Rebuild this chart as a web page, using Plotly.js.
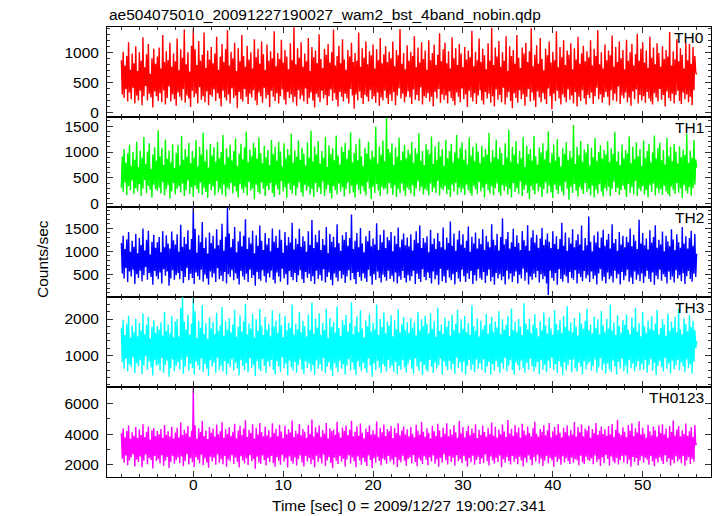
<!DOCTYPE html>
<html><head><meta charset="utf-8">
<script src="https://cdn.plot.ly/plotly-3.0.1.min.js"></script>
<style>html,body{margin:0;padding:0;background:#fff}#chart{width:717px;height:516px}</style>
</head><body><div id="chart"></div>
<script>
// Time grid of the light curves (seconds from 2009/12/27 19:00:27.341)
const timeStart = -8;
const timeStep = 0.1;

const th0 = [
880,310,1020,250,790,400,950,190,1180,340,720,230,990,420,830,160,1110,290,700,210,
1010,370,870,130,1260,280,760,450,980,210,1150,320,650,260,910,90,1070,360,820,280,
940,200,1090,330,740,180,1300,380,850,140,1030,250,880,440,1170,190,770,310,990,230,
860,120,1240,340,710,270,1060,210,920,400,1390,170,810,290,1010,240,690,100,1120,370,
1410,260,1060,320,800,160,1200,430,870,220,970,280,1340,180,750,360,1040,130,890,300,
1100,270,830,390,990,200,1270,330,720,240,940,110,1150,370,850,260,1060,210,1380,310,
790,160,1020,410,910,250,1170,290,700,80,1080,350,860,230,1300,190,950,400,770,270,
1120,150,890,320,1010,260,740,380,1230,210,930,130,1070,340,820,280,1190,170,980,420,
710,240,1140,300,870,100,1030,370,910,270,1360,200,780,330,1000,160,900,280,1220,390,
840,220,1050,140,940,350,730,250,1160,310,880,180,1430,270,810,120,1080,380,920,230,
1180,290,770,190,990,410,860,150,1250,250,700,340,1100,210,930,90,1040,320,830,260,
1310,180,900,370,750,240,1070,300,970,130,1150,280,840,390,1010,200,1390,330,790,220,
950,110,1120,350,830,270,1230,190,890,320,720,240,1050,160,940,400,1170,290,850,70,
1000,310,870,210,1340,360,770,250,1080,150,920,300,1190,270,810,190,1030,380,960,230,
1140,280,740,170,1060,340,880,120,1250,260,830,210,980,370,1110,250,850,150,1020,310,
910,200,1190,350,780,130,1050,290,960,410,1400,240,820,320,1000,180,730,270,1130,360,
870,260,1020,150,950,390,1280,220,760,300,1090,200,840,430,1180,140,900,280,1040,250,
720,330,1210,190,880,270,1000,110,1140,350,800,240,970,400,1330,170,860,310,1060,220,
1170,290,830,160,1030,360,740,250,1260,200,910,130,1080,340,800,270,1150,180,990,410,
760,230,1100,310,890,100,1040,370,930,260,1370,190,780,330,1020,150,880,290,1240,380,
850,210,1070,140,960,350,730,240,1160,320,870,170,1420,280,800,110,1090,390,940,220,
1200,300,770,180,1010,420,870,140,1280,260,700,350,1110,200,950,80,1050,330,820,250,
1300,170,920,380,750,230,1090,310,990,120,1170,270,850,400,1030,190,1410,340,780,210,
970,100,1130,360,820,260,1250,180,900,330,710,230,1070,150,960,410,1190,280,840,60,
1020,320,880,200,1360,370,760,240,1100,140,930,310,1210,260,800,180,1040,390,970,220,
1160,290,730,160,1080,350,890,110,1270,270,820,200,990,380,1120,240,860,140,1030,300,
930,250,1210,340,790,150,1070,280,950,420,1380,230,810,310,1010,170,740,260,1140,350,
880,270,1040,130,960,380,1290,210,770,320,1100,190,850,440,1190,150,910,290,1050,240,
730,340,1220,180,870,260,1010,120,1150,360,790,230,980,390,1320,160,870,300,1070,210,
1180,280,840,170,1040,350,750,240,1270,190,920,140,1090,330,810,260,1160,190,1000,400,
770,220,1110,300,900,110,1050,360,940,250,1350,200,790,320,1030,160,890,300,1230,370,
860,200,1080,150,970,340,740,230,1170,310,880,180,1150,270,820,130,1100,380,950,680,
640];

const th1 = [
310,920,230,1060,410,790,170,970,340,1140,260,730,450,1000,190,850,300,1200,240,710,
380,1030,150,890,290,1290,460,770,210,1010,350,1170,270,670,120,950,370,1090,280,830,
250,1420,310,920,200,1080,420,750,160,1240,280,870,360,1030,100,800,240,1150,400,690,
180,980,290,1130,340,740,220,1310,390,850,150,1060,260,910,450,1180,190,780,320,1020,
130,890,350,1230,280,720,210,1100,410,950,170,1370,300,820,230,1050,110,700,380,1160,
260,930,330,1090,160,810,440,1200,220,880,290,1000,180,1330,370,760,140,1070,310,900,
270,1140,400,840,200,1020,340,1260,240,730,120,970,380,1160,280,860,210,1090,320,1390,
160,800,420,1050,250,920,300,1180,90,1080,370,870,230,1280,190,980,410,780,290,1120,
150,900,340,1040,260,750,400,1230,210,960,130,1100,360,830,280,1200,170,1010,440,720,
240,1170,320,880,110,1060,390,940,270,1350,200,790,350,1030,160,910,300,1220,410,850,
220,1080,140,970,370,740,250,1190,330,890,180,1410,290,820,130,1110,400,950,230,1210,
310,780,190,1020,430,890,150,1290,270,710,360,1130,210,960,100,1070,340,840,260,1320,
180,930,390,760,240,1100,320,1000,140,1180,280,870,410,1040,200,1380,350,800,220,980,
120,1150,370,840,270,1260,190,920,340,730,240,1080,160,970,420,1200,290,860,90,1030,
330,900,210,1490,380,780,250,1110,150,950,320,1220,270,820,300,1660,190,1060,400,990,
300,1170,170,750,360,1090,130,910,280,1280,210,840,390,1010,250,1140,150,880,310,1050,
270,960,200,1200,360,790,140,1070,300,970,430,1360,250,830,330,1020,180,750,280,1150,
250,1050,160,960,390,1300,230,770,310,1110,210,850,440,1200,160,920,300,1060,260,730,
340,1230,190,880,270,1020,130,1160,370,800,240,990,400,1330,170,880,310,1080,220,1190,
290,850,170,1050,370,760,260,1280,210,930,150,1100,350,820,280,1170,190,1010,420,780,
240,1120,310,910,120,1060,380,950,260,1370,200,800,340,1040,170,900,300,1240,390,870,
220,1090,150,980,360,750,250,1170,330,890,180,1430,290,810,120,1100,400,950,230,1210,
300,780,190,1020,430,880,150,1290,270,710,360,1120,210,960,90,1060,340,830,250,1310,
180,920,390,760,240,1090,320,990,130,1170,280,860,410,1030,200,1400,350,790,220,970,
110,1140,370,830,270,1250,190,910,340,720,240,1070,160,960,420,1190,290,850,80,1020,
330,890,210,1520,380,770,250,1100,140,940,320,1210,270,810,190,1050,400,990,230,1160,
290,740,160,1080,350,900,120,1270,270,830,200,1000,380,1130,240,870,140,1040,300,950,
250,1210,330,800,150,1070,290,960,420,1390,230,820,310,1010,170,750,260,1140,350,880,
270,1040,130,970,380,1300,210,780,320,1100,190,860,440,1190,150,920,290,1060,240,730,
340,1220,180,880,260,1020,120,1160,360,800,230,990,390,1320,160,880,300,1080,210,1180,
280,840,170,1040,350,760,240,1270,190,920,140,1100,330,820,260,1160,190,1010,400,780,
220,1110,300,900,110,1050,360,940,250,1350,200,790,320,1030,160,890,300,1230,370,860,
700];

const th2 = [
1180,520,1340,410,1050,640,1260,330,1420,560,990,450,1230,600,1100,290,1380,500,960,420,
1290,580,1140,350,1500,480,1020,660,1250,380,1450,530,930,440,1210,270,1360,570,1080,460,
1200,390,1310,540,980,300,1440,610,1090,470,1350,560,1170,250,1060,410,1430,590,1240,380,
1150,480,1370,530,990,390,1580,570,1100,310,1310,440,1160,640,1460,370,1040,510,1270,420,
2000,290,1490,540,970,460,1350,380,1200,600,1640,340,1070,490,1300,410,950,270,1410,560,
1180,430,1340,520,1060,330,1480,630,1130,390,1250,470,1600,350,1010,550,1320,300,1960,500,
1390,440,1090,590,1270,370,1530,520,980,410,1220,280,1430,570,1110,450,1340,380,1700,510,
1050,330,1300,600,1170,420,1450,480,960,250,1350,550,1120,400,1560,360,1230,590,1030,460,
1400,320,1150,520,1290,430,1000,580,1500,380,1210,300,1340,540,1080,450,1470,340,1250,620,
970,410,1420,500,1130,270,1310,570,1190,440,1620,370,1040,530,1280,330,1160,480,1490,590,
1100,390,1330,310,1220,550,990,420,1440,510,1140,350,1680,460,1070,290,1360,580,1200,400,
1460,480,1030,360,1270,610,1140,320,1530,440,960,540,1380,380,1210,260,1320,520,1090,430,
1590,350,1180,570,1010,410,1350,490,1250,310,1420,450,1120,590,1290,370,1800,530,1050,390,
1230,290,1400,550,1090,440,1510,360,1170,520,980,410,1330,330,1220,600,1450,460,1110,270,
1280,500,1150,380,1610,560,1030,420,1360,320,1200,490,1470,440,1070,360,1310,580,1240,400,
1420,470,1000,340,1340,540,1160,300,1520,450,1090,380,1260,570,1390,420,1130,320,1300,480,
1110,360,1370,460,1020,580,1250,290,1440,510,1180,400,1560,330,1070,610,1290,440,1190,370,
1330,540,980,420,1470,300,1160,560,1280,390,1050,480,1400,270,1220,620,1090,350,1520,450,
1040,310,1300,590,1180,430,1650,370,1120,500,1390,280,1010,550,1260,410,1450,340,1150,600,
1370,460,1080,330,1230,520,1540,400,990,570,1320,290,1170,480,1410,360,1060,610,1280,420,
1160,380,1480,550,1030,310,1340,470,1210,600,1090,350,1590,440,1250,270,1130,530,1380,410,
1020,500,1310,370,1720,450,1150,280,1270,580,1420,390,1060,520,1200,330,1490,460,1100,560,
1350,300,1180,490,1030,410,1440,620,1240,360,1120,540,1570,280,1010,450,1300,380,1460,510,
1190,430,1360,570,1080,320,1280,500,1510,390,1140,460,1260,300,1390,50,1210,580,1070,420,
1440,360,1160,530,1330,270,1050,610,1270,400,1620,340,1120,490,1410,450,1010,310,1300,550,
1170,420,1480,380,1090,590,1240,300,1370,510,1150,440,1560,350,1020,570,1290,410,1130,480,
1760,330,1210,560,1000,400,1350,470,1190,280,1430,520,1080,610,1300,360,1470,440,1120,300,
1250,540,1380,390,1060,460,1590,320,1180,580,1270,410,1010,500,1420,280,1150,550,1340,370,
1090,470,1320,600,1200,340,1500,430,1110,290,1360,560,1230,380,1050,490,1690,350,1170,520,
1400,310,1130,450,1280,580,1040,400,1460,330,1190,540,1310,270,1570,470,1080,390,1250,600,
1150,360,1430,500,1000,440,1340,300,1220,560,1110,380,1480,450,1260,320,1030,590,1370,410,
1200,480,1080,350,1530,520,1170,290,1330,460,1060,570,1290,400,1450,340,1120,510,1380,440,
950];

const th3 = [
1750,820,1980,640,1560,910,1870,560,2090,760,1490,680,1820,950,1640,520,2010,790,1530,700,
1900,870,1690,490,2150,730,1580,980,1840,610,2060,840,1470,670,1780,450,1960,880,1620,720,
1810,760,1720,590,1910,930,1550,530,2200,740,1670,860,1850,420,1600,650,2080,900,1500,570,
1930,720,2000,810,1520,620,2300,890,2600,500,1930,700,1710,960,2120,580,1570,780,1870,660,
2650,480,2210,830,1480,740,1950,600,1760,920,2380,550,1590,770,1890,640,1460,440,2040,870,
1740,690,1920,800,1590,530,2170,940,1680,610,1820,720,2330,560,1540,850,1940,470,1710,780,
2020,680,1640,900,1850,590,2250,810,1510,650,1790,460,2100,870,1660,710,1930,600,2420,790,
1580,540,1880,920,1730,660,2140,750,1490,430,1990,850,1680,630,2280,570,1820,900,1560,720,
2060,520,1710,830,1870,690,1530,880,2230,600,1790,480,1960,840,1620,700,2150,550,1830,950,
1500,650,2090,780,1690,450,1900,860,1760,680,2400,580,1570,820,1860,530,1720,740,2190,890,
1640,610,1950,500,1800,850,1520,660,2120,790,1700,560,2450,730,1590,470,2010,870,1770,640,
2160,760,1560,580,1890,930,1700,520,2270,690,1480,810,2030,600,1780,440,1920,790,1630,670,
2340,550,1750,860,1540,640,1980,760,1840,480,2110,720,1660,900,1890,590,2460,810,1580,620,
1810,460,2070,840,1640,690,2240,570,1740,800,1500,640,1960,530,1800,910,2130,730,1660,420,
1900,780,1710,600,2400,850,1560,670,2000,520,1780,760,2180,690,1610,560,1930,880,1820,650,
2100,730,1530,550,1970,830,1720,490,2260,710,1640,600,1850,870,2050,680,1690,530,1910,760,
1620,870,2030,640,1760,500,1910,920,1550,700,2200,580,1690,830,1990,460,1800,750,2090,610,
1880,560,1600,880,2160,690,1730,520,1940,800,1510,640,2310,730,1670,910,1850,480,1590,840,
2040,700,1780,590,1950,860,1540,620,2120,770,1700,500,1860,940,2250,660,1610,810,1990,550,
1730,830,2080,470,1640,720,1900,880,1560,600,2370,750,1800,540,1680,890,2020,640,1520,790,
1960,610,1720,900,1830,530,2140,700,1600,820,1870,470,2060,760,1650,580,1930,850,1770,680,
2210,520,1580,790,1990,640,1710,930,1840,560,2090,720,1530,870,2290,600,1690,480,1920,810,
1650,740,2010,590,1790,860,1560,660,2430,530,1880,800,1720,620,2000,910,1610,700,1850,570,
2130,680,1750,820,1530,490,1940,880,1690,610,2180,750,1820,540,1600,860,2050,650,1740,930,
1570,600,2240,770,1860,520,1700,840,1980,690,1620,460,2090,810,1780,590,2350,730,1680,880,
1910,540,1640,900,2030,650,1790,560,1550,800,2160,700,1870,490,1730,850,1950,620,2280,760,
1700,830,1850,580,1610,710,2070,890,1760,530,1990,670,1580,920,2220,600,1820,760,1660,510,
2010,790,1740,620,2390,550,1680,860,1910,700,1560,480,2100,830,1800,640,1630,910,1970,570,
1840,720,2120,500,1710,880,1590,650,2040,780,1770,560,2300,690,1650,840,1890,600,1530,760,
2190,610,1800,870,1620,530,1960,740,1730,900,2080,580,1690,800,1870,460,2250,710,1580,850,
1750,680,2000,560,1840,930,1540,640,2150,790,1680,510,1930,860,1770,620,2060,730,1640,880,
2280,590,1720,810,1580,700,2020,540,1860,890,1670,650,2110,760,1780,500,1950,830,1700,1200,
1400];

const th0123 = [
4050,2400,4380,2150,3800,2620,4210,1980,4560,2300,3700,2500,4120,2700,3900,1900,4470,2350,3750,2200,
4300,2550,3950,1850,4650,2280,3820,2680,4150,2050,4500,2450,3650,2320,4250,1780,4400,2580,3880,2250,
4200,2380,4000,2100,4330,2640,3770,1950,4600,2270,3960,2520,4180,1800,3850,2200,4480,2600,3720,2080,
4100,2330,4420,2480,3780,2120,4750,2560,3940,1920,4280,2260,4060,2700,4520,2030,3830,2440,4200,2180,
6980,1870,4580,2500,3700,2340,4390,2090,4140,2660,4850,1990,3880,2420,4240,2160,3680,1820,4460,2540,
4090,2230,4360,2470,3840,2010,4620,2690,3990,2140,4190,2380,4780,2040,3760,2590,4310,1890,4020,2360,
4440,2250,3900,2630,4160,2070,4680,2490,3730,2190,4230,1840,4540,2570,3950,2290,4370,2110,4900,2430,
3810,2000,4290,2650,4080,2240,4640,2390,3710,1760,4410,2530,3970,2170,4720,2060,4130,2610,3860,2310,
4490,1960,3930,2460,4260,2200,3790,2580,4700,2120,4070,1880,4350,2510,3870,2280,4610,2020,4170,2670,
3740,2210,4550,2440,3990,1830,4320,2560,4110,2260,4880,2080,3820,2480,4220,1970,4030,2370,4660,2620,
3920,2160,4340,1910,4150,2590,3760,2230,4590,2450,4010,2050,4950,2340,3850,1860,4450,2600,4100,2190,
4570,2420,3830,2090,4270,2680,4040,1940,4730,2300,3710,2510,4390,2130,4180,1790,4300,2470,3960,2270,
4800,2060,4110,2570,3780,2210,4430,2400,4200,1900,4560,2360,3940,2640,4280,2100,4870,2490,3860,2240,
4160,1850,4510,2550,3890,2290,4690,2020,4090,2460,3740,2180,4370,1930,4140,2620,4580,2330,3970,1810,
4250,2440,4000,2150,4820,2540,3800,2260,4420,1980,4120,2410,4630,2320,3880,2080,4340,2580,4190,2230,
4530,2350,3750,2040,4400,2520,4050,1870,4710,2310,3920,2170,4230,2600,4490,2280,3990,1950,4320,2390,
3870,2480,4460,2110,4030,2650,3790,2200,4610,1920,4240,2430,3960,2280,4790,2060,4150,2570,3830,2340,
4380,1990,4090,2500,3720,2230,4540,2620,4180,2080,3900,2360,4670,1880,4260,2450,3810,2150,4420,2690,
4020,2310,4700,2040,3860,2560,4310,2190,3980,2470,4580,1950,4120,2640,3770,2250,4850,2390,4060,2120,
4470,2580,3800,2270,4200,1900,4520,2440,3930,2180,4360,2600,4080,2010,4640,2330,3750,2520,4290,2070,
3950,2420,4560,2130,4140,2680,3840,2240,4400,1970,4010,2550,4750,2290,3890,2100,4480,2460,3780,2200,
4300,2610,3990,1860,4620,2370,4170,2150,3820,2500,4910,2260,4040,2030,4350,2580,3900,2210,4590,2400,
4110,2050,4430,2540,3770,2300,4680,1910,4230,2460,3940,2170,4500,2620,4070,2340,3860,1980,4390,2510,
4800,2220,4020,2660,3850,2090,4330,2410,4150,1940,4570,2280,3920,2590,4260,2120,4720,2450,3790,2310,
4190,1880,4480,2530,3960,2200,4640,2370,4090,2010,3800,2570,4410,2160,4120,2440,4560,2250,3910,2060,
4270,2490,3980,2140,4780,2380,3840,2290,4460,1990,4130,2600,4620,2180,3870,2070,4370,2540,4230,2320,
4550,2260,3760,2430,4340,2050,4080,2620,4730,2190,3960,2360,4210,1930,4500,2480,4010,2110,4310,2650,
3890,2390,4520,1960,4000,2550,4660,2240,3830,2120,4280,2460,4940,2030,4060,2310,3940,2590,4450,2170,
4160,2610,3810,2080,4590,2340,4220,1890,4700,2520,3880,2200,4380,2450,4100,1980,4830,2280,3970,2570,
4420,2140,4030,2470,3780,2320,4610,2010,4190,2590,3930,2230,4490,1920,4250,2400,3850,2160,4570,2500,
4080,2280,4640,2060,3990,2630,4360,2190,3760,2420,4530,1970,4140,2340,4890,2110,3910,2560,4300,2240,
4520,2370,3870,2120,4250,2580,4010,1950,4690,2290,3900,2500,4180,2070,4440,2390,3820,2210,4600,3300,
3400];

const bandNames = ['TH0', 'TH1', 'TH2', 'TH3', 'TH0123'];
const series = [th0, th1, th2, th3, th0123];

// ---- presentation ----
const colors = ['#ff0000', '#00ff00', '#0000ff', '#00ffff', '#ff00ff'];
const yRanges = [[-67, 1433], [-62, 1676], [5, 1966], [137, 2603], [1220, 7060]];
const yDtick = [500, 500, 500, 1000, 2000];
const yMinor = [100, 100, 100, 200, 1000];
const FONT = 'Liberation Sans, Arial, Helvetica, sans-serif';
const W = 717, H = 516, ML = 107, MR = 6, MT = 27, MB = 39;
const PW = W - ML - MR, PH = H - MT - MB;
const n = series.length;

const traces = [];
const layout = {
  width: W, height: H,
  margin: {l: ML, r: MR, t: MT, b: MB, pad: 0},
  paper_bgcolor: '#fff', plot_bgcolor: '#fff',
  showlegend: false,
  font: {family: FONT, size: 15.5, color: '#000'},
  annotations: []
};

for (let i = 0; i < n; i++) {
  const sx = i === 0 ? '' : String(i + 1);
  traces.push({
    type: 'scatter', mode: 'lines',
    x0: timeStart, dx: timeStep, y: series[i],
    xaxis: 'x' + sx, yaxis: 'y' + sx,
    line: {color: colors[i], width: 1.4},
    hoverinfo: 'skip'
  });
  const top = 1 - i / n, bot = 1 - (i + 1) / n;
  layout['xaxis' + sx] = {
    domain: [0, 1], anchor: 'y' + sx, range: [-9.6, 57.6],
    showline: true, linecolor: '#000', linewidth: 1, mirror: 'ticks',
    ticks: 'inside', ticklen: 6, tickwidth: 1, tickcolor: '#333',
    tick0: 0, dtick: 10,
    minor: {dtick: 2, ticks: 'inside', ticklen: 3, tickcolor: '#333', tickwidth: 1, showgrid: false},
    showgrid: false, zeroline: false,
    showticklabels: i === n - 1,
    ticklabelstandoff: -7,
    tickfont: {family: FONT, size: 15.5, color: '#000'}
  };
  layout['yaxis' + sx] = {
    domain: [bot, top], anchor: 'x' + sx, range: yRanges[i],
    showline: true, linecolor: '#000', linewidth: 1, mirror: 'ticks',
    ticks: 'inside', ticklen: 6, tickwidth: 1, tickcolor: '#333',
    tick0: 0, dtick: yDtick[i],
    minor: {dtick: yMinor[i], ticks: 'inside', ticklen: 3, tickcolor: '#333', tickwidth: 1, showgrid: false},
    showgrid: false, zeroline: false,
    ticklabelstandoff: 4,
    tickfont: {family: FONT, size: 15.5, color: '#000'}
  };
  layout.annotations.push({
    text: bandNames[i], showarrow: false,
    xref: 'paper', yref: 'paper',
    x: (706 - ML) / PW, xanchor: 'right',
    y: top - 10.5 / PH, yanchor: 'middle',
    font: {family: FONT, size: 15.5, color: '#000'}
  });
}

layout.annotations.push({
  text: 'ae504075010_20091227190027_wam2_bst_4band_nobin.qdp', showarrow: false,
  xref: 'paper', yref: 'paper', x: 0, xanchor: 'left',
  y: 1 + (MT - 14.5) / PH, yanchor: 'middle',
  font: {family: FONT, size: 15.5, color: '#000'}
});
layout.annotations.push({
  text: 'Counts/sec', showarrow: false, textangle: -90,
  xref: 'paper', yref: 'paper', x: (42 - ML) / PW, xanchor: 'center',
  y: (H - MB - 259) / PH, yanchor: 'middle',
  font: {family: FONT, size: 15.5, color: '#000'}
});
layout.annotations.push({
  text: 'Time [sec] 0 = 2009/12/27 19:00:27.341', showarrow: false,
  xref: 'paper', yref: 'paper', x: 0.5, xanchor: 'center',
  y: -(505 - (H - MB)) / PH, yanchor: 'middle',
  font: {family: FONT, size: 15.5, color: '#000'}
});

Plotly.newPlot('chart', traces, layout, {displayModeBar: false, staticPlot: true});
</script>
</body></html>
